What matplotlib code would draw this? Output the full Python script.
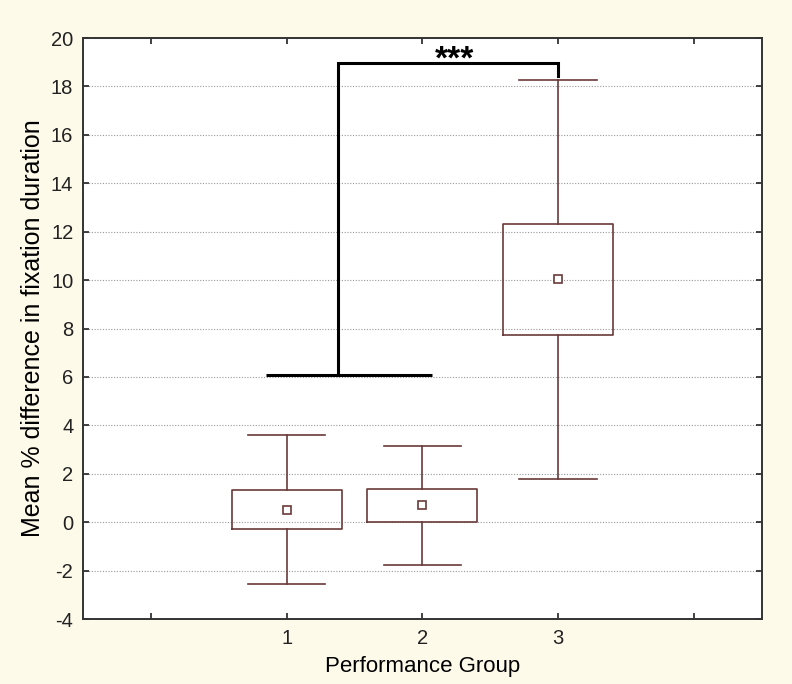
import numpy as np
import matplotlib
matplotlib.use("Agg")
import matplotlib.pyplot as plt

plt.rcParams['font.family'] = ['Liberation Sans', 'DejaVu Sans']
plt.rcParams['axes.unicode_minus'] = False

# summary values
groups = [1, 2, 3]
means = [0.52, 0.70, 10.05]
box_lo = [-0.28, 0.00, 7.72]
box_hi = [1.33, 1.37, 12.32]
whisk_lo = [-2.55, -1.76, 1.78]
whisk_hi = [3.62, 3.16, 18.27]

# significance bracket
brk_low_y = 6.08
brk_low_x = [0.85, 2.07]
brk_mid_x = 1.38
brk_top_y = 18.97
brk_end_x = 3
brk_end_y = 18.45
stars = "***"

xticks = [0, 1, 2, 3, 4]
xticklabels = ["", "1", "2", "3", ""]
yticks = np.arange(-4, 21, 2)

box_col = "#6b3a3a"
bg = "#fdfaea"

fig = plt.figure(figsize=(7.92, 6.84), dpi=100, facecolor=bg)
ax = fig.add_axes([0.1048, 0.095, 0.857, 0.8494])
ax.set_facecolor("white")

stats = []
for i in range(len(groups)):
    stats.append({"med": means[i], "mean": means[i], "q1": box_lo[i], "q3": box_hi[i],
                  "whislo": whisk_lo[i], "whishi": whisk_hi[i], "fliers": []})

ax.bxp(stats, positions=groups, widths=0.81, capwidths=0.57, showmeans=True,
       boxprops=dict(color=box_col, linewidth=1.2),
       whiskerprops=dict(color=box_col, linewidth=1.2),
       capprops=dict(color=box_col, linewidth=1.2),
       medianprops=dict(linewidth=0),
       meanprops=dict(marker='s', markersize=6, markerfacecolor='white',
                      markeredgecolor=box_col, markeredgewidth=1.2),
       zorder=3)

# bracket
ax.plot(brk_low_x, [brk_low_y, brk_low_y], color='black', lw=2.2, solid_capstyle='butt', zorder=4)
ax.plot([brk_mid_x, brk_mid_x, brk_end_x, brk_end_x],
        [brk_low_y, brk_top_y, brk_top_y, brk_end_y],
        color='black', lw=2.2, solid_joinstyle='miter', zorder=4)
ax.text(2.24, 18.75, stars, ha='center', va='baseline', fontsize=24, fontweight='bold')

ax.set_xlim(-0.5, 4.5)
ax.set_ylim(-4, 20)
ax.set_xticks(xticks)
ax.set_xticklabels(xticklabels)
ax.set_yticks(yticks)
ax.yaxis.grid(True, linestyle=(0, (1, 1.5)), color='#999999', linewidth=0.8)
ax.set_axisbelow(True)
ax.tick_params(direction='in', length=4, width=1.2, top=True, right=True,
               labelsize=14.5, colors='#222222', pad=7)
for s in ax.spines.values():
    s.set_color('#333333')
    s.set_linewidth(1.4)

ax.set_xlabel("Performance Group", fontsize=16, labelpad=6)
ax.set_ylabel("Mean % difference in fixation duration", fontsize=18, labelpad=4)

fig.savefig("out.png", dpi=100, facecolor=bg)
